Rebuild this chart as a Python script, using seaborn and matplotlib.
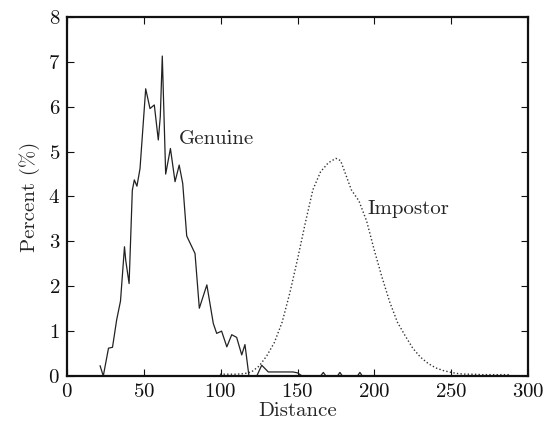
import matplotlib
matplotlib.use("Agg")
import matplotlib.pyplot as plt
import seaborn as sns
import pandas as pd

# Genuine distance distribution (percent)
genuine_x = [21.5, 23.6, 27.0, 29.6, 32.3, 34.8, 37.4, 38.2, 40.4, 42.5, 43.8, 45.5,
             47.5, 51.2, 54.0, 56.8, 59.4, 60.7, 62.0, 64.2, 67.3, 70.3, 73.0, 75.3,
             77.9, 83.3, 86.1, 91.0, 95.2, 97.4, 100.6, 104.0, 107.2, 110.4, 113.7,
             115.8, 118.4, 123.5, 126.7, 131.0, 147.0, 150.0, 153.0, 165.0, 166.8,
             168.5, 176.0, 177.6, 179.2, 189.0, 190.6, 192.2]
genuine_y = [0.23, 0.0, 0.62, 0.64, 1.25, 1.67, 2.88, 2.58, 2.06, 4.14, 4.37, 4.23,
             4.62, 6.40, 5.96, 6.04, 5.26, 5.78, 7.13, 4.50, 5.07, 4.33, 4.70, 4.29,
             3.12, 2.73, 1.51, 2.03, 1.17, 0.95, 1.00, 0.65, 0.92, 0.86, 0.47,
             0.70, 0.0, 0.0, 0.24, 0.09, 0.09, 0.07, 0.0, 0.0, 0.08,
             0.0, 0.0, 0.08, 0.0, 0.0, 0.08, 0.0]

# Impostor distance distribution (percent)
impostor_x = [99.5, 105, 110, 115, 120, 125, 130, 135, 140, 145, 150, 155, 160, 165,
              170, 175, 178, 180, 185, 190, 195, 200, 205, 210, 215, 220, 225, 230,
              235, 240, 245, 250, 255, 260, 265, 270, 280, 288]
impostor_y = [0.04, 0.04, 0.04, 0.05, 0.09, 0.22, 0.45, 0.75, 1.2, 1.85, 2.6, 3.4, 4.15,
              4.55, 4.75, 4.85, 4.8, 4.62, 4.15, 3.9, 3.45, 2.8, 2.2, 1.65, 1.2, 0.9,
              0.62, 0.42, 0.28, 0.18, 0.12, 0.08, 0.05, 0.04, 0.04, 0.03, 0.03, 0.03]

x_ticks = [0, 50, 100, 150, 200, 250, 300]
y_ticks = [0, 1, 2, 3, 4, 5, 6, 7, 8]

sns.set_style("ticks")
plt.rcParams["font.family"] = ["cmr10", "DejaVu Serif"]
plt.rcParams["axes.formatter.use_mathtext"] = True
plt.rcParams["mathtext.fontset"] = "cm"

gen = pd.DataFrame({"Distance": genuine_x, "Percent": genuine_y})
imp = pd.DataFrame({"Distance": impostor_x, "Percent": impostor_y})

fig = plt.figure(figsize=(5.48, 4.25), dpi=100)
ax = fig.add_axes([0.1223, 0.1153, 0.8412, 0.8447])

sns.lineplot(data=gen, x="Distance", y="Percent", ax=ax, color="#222222",
             linewidth=0.9, sort=False, estimator=None)
sns.lineplot(data=imp, x="Distance", y="Percent", ax=ax, color="#333333",
             linewidth=1.0, linestyle=(0, (1, 1.6)), sort=False, estimator=None)

ax.set_xlim(0, 300)
ax.set_ylim(0, 8)
ax.set_xticks(x_ticks)
ax.set_yticks(y_ticks)
ax.tick_params(direction="in", length=5, width=0.8, top=True, right=True,
               labelsize=15, colors="#111111", pad=5)
for s in ax.spines.values():
    s.set_linewidth(1.6)
    s.set_color("#111111")

ax.set_xlabel("Distance", fontsize=15, labelpad=1)
ax.set_ylabel("Percent (%)", fontsize=15, labelpad=6)

ax.text(72.5, 5.27, "Genuine", fontsize=15, va="center", ha="left")
ax.text(195.5, 3.72, "Impostor", fontsize=15, va="center", ha="left")

fig.savefig("out.png", dpi=100)
